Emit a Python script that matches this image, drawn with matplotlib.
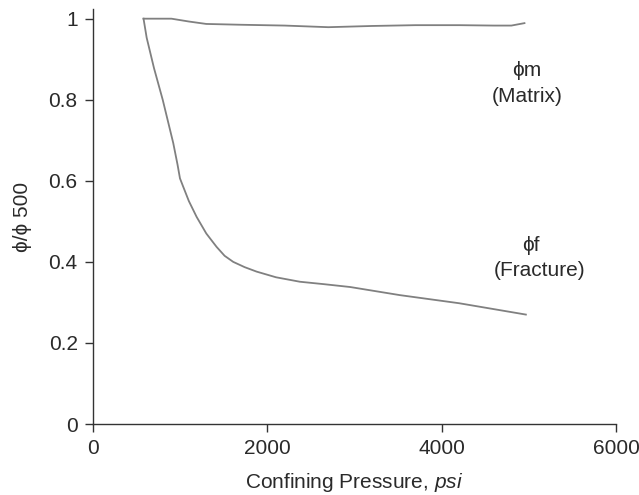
import matplotlib
matplotlib.use("Agg")
import matplotlib.pyplot as plt

plt.rcParams['font.family'] = ['Liberation Sans', 'DejaVu Sans']
plt.rcParams['mathtext.fontset'] = 'custom'
plt.rcParams['mathtext.it'] = 'Liberation Sans:italic'
plt.rcParams['mathtext.rm'] = 'Liberation Sans'

# matrix porosity ratio vs confining pressure
p_matrix = [580, 900, 1100, 1300, 1700, 2200, 2700, 3200, 3700, 4200, 4600, 4800, 4950]
phi_matrix = [1.0, 1.0, 0.993, 0.987, 0.985, 0.983, 0.979, 0.982, 0.984, 0.984,
              0.983, 0.983, 0.989]

# fracture porosity ratio vs confining pressure
p_frac = [580, 616, 700, 800, 921, 970, 998, 1036, 1100, 1189, 1300, 1418, 1510,
          1609, 1740, 1877, 2100, 2374, 2650, 2950, 3520, 4200, 4966]
phi_frac = [1.0, 0.953, 0.878, 0.80, 0.693, 0.64, 0.606, 0.585, 0.55, 0.511, 0.47,
            0.437, 0.415, 0.400, 0.387, 0.376, 0.362, 0.351, 0.345, 0.338, 0.318,
            0.298, 0.27]

xticks = [0, 2000, 4000, 6000]
yticks = [0, 0.2, 0.4, 0.6, 0.8, 1.0]
yticklabels = ["0", "0.2", "0.4", "0.6", "0.8", "1"]

LINE = "#808080"
AX = "#333333"
TXT = "#2a2a2a"
FS = 15

fig = plt.figure(figsize=(6.39, 4.95), dpi=100)
ax = fig.add_axes([0.1455, 0.1434, 0.8185, 0.8377])

ax.plot(p_matrix, phi_matrix, color=LINE, lw=1.3)
ax.plot(p_frac, phi_frac, color=LINE, lw=1.3)

ax.set_xlim(0, 6000)
ax.set_ylim(0, 1.023)
ax.set_xticks(xticks)
ax.set_xticklabels([str(t) for t in xticks])
ax.set_yticks(yticks)
ax.set_yticklabels(yticklabels)

for s in ("top", "right"):
    ax.spines[s].set_visible(False)
for s in ("left", "bottom"):
    ax.spines[s].set_color(AX)
    ax.spines[s].set_linewidth(1.0)
ax.tick_params(direction="out", length=6, width=1.0, color=AX,
               labelsize=FS, labelcolor=TXT, pad=5)

ax.set_xlabel(r"Confining Pressure, $\it{psi}$", fontsize=FS, color=TXT, labelpad=9)
ax.set_ylabel("ϕ/ϕ 500", fontsize=FS, color=TXT, labelpad=12)

ax.text(4980, 0.873, "ϕm", ha="center", va="center", fontsize=FS, color=TXT)
ax.text(4980, 0.807, "(Matrix)", ha="center", va="center", fontsize=FS, color=TXT)
ax.text(5020, 0.44, "ϕf", ha="center", va="center", fontsize=FS, color=TXT)
ax.text(5120, 0.378, "(Fracture)", ha="center", va="center", fontsize=FS, color=TXT)

fig.savefig("out.png", dpi=100)
